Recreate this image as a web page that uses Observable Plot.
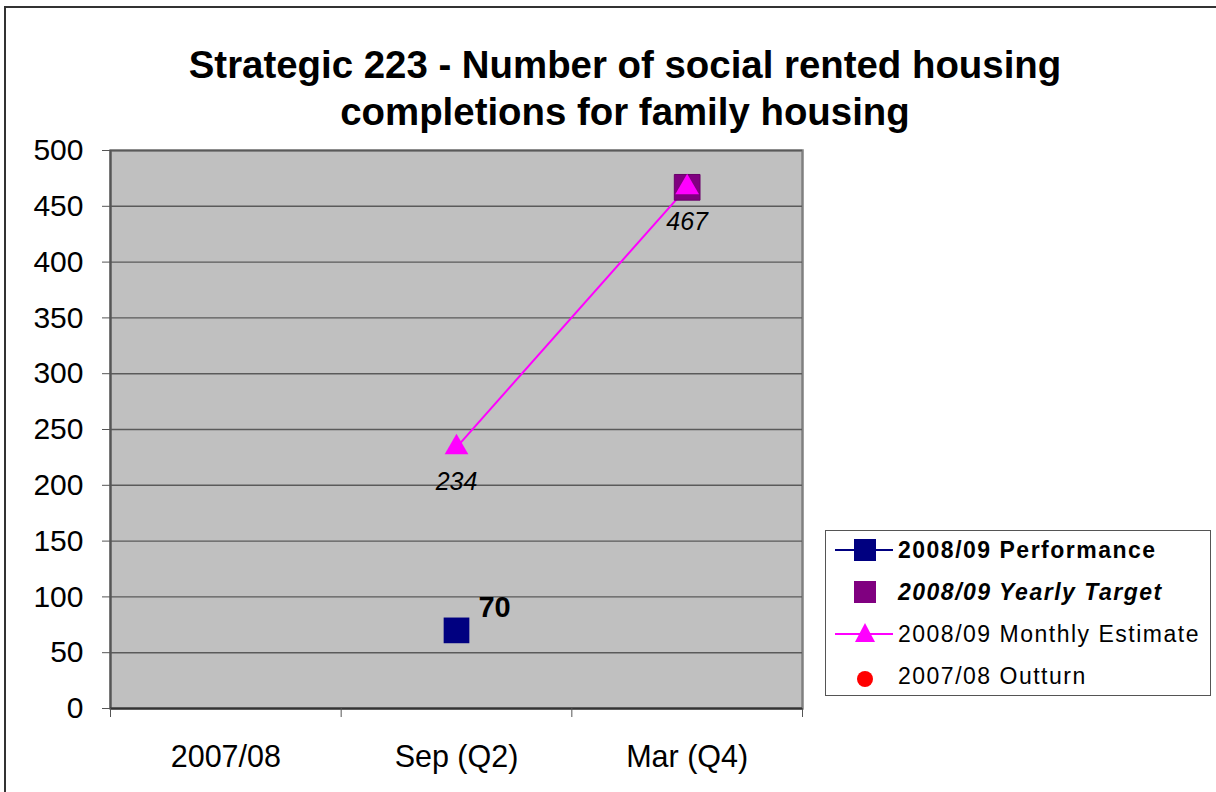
<!DOCTYPE html>
<html>
<head>
<meta charset="utf-8">
<script src="https://cdn.jsdelivr.net/npm/d3@7"></script>
<script src="https://cdn.jsdelivr.net/npm/@observablehq/plot@0.6"></script>
<style>
  html, body { margin: 0; padding: 0; background: #fff; overflow: hidden; }
  #wrap { position: relative; width: 1216px; height: 792px; font-family: "Liberation Sans", Arial, sans-serif; }
  #border { position: absolute; left: 4px; top: 6px; width: 1230px; height: 820px; border: 2px solid #333; box-sizing: border-box; }
  #title { position: absolute; left: 125px; width: 1000px; top: 41px; text-align: center; font-weight: bold; font-size: 38.4px; line-height: 47px; color: #000; }
  #chart { position: absolute; left: 0; top: 0; }
  #legend { position: absolute; left: 825px; top: 530px; width: 386px; height: 166px; border: 1.5px solid #555; box-sizing: border-box; background: #fff; padding-top: 0; }
  .row { height: 42.2px; display: flex; align-items: center; }
  .row:first-child { margin-top: -2px; }
  .row svg { flex: none; }
  .row span { font-size: 23px; letter-spacing: 1.5px; color: #000; white-space: nowrap; }
</style>
</head>
<body>
<div id="wrap">
  <div id="border"></div>
  <div id="chart"></div>
  <div id="title">Strategic 223 - Number of social rented housing<br>completions for family housing</div>
  <div id="legend"></div>
</div>
<script>
// ---- data ----
const categories = ["2007/08", "Sep (Q2)", "Mar (Q4)"];
const yTicks = [0, 50, 100, 150, 200, 250, 300, 350, 400, 450, 500];
const performance = [{cat: "Sep (Q2)", value: 70}];
const yearlyTarget = [{cat: "Mar (Q4)", value: 467}];
const monthlyEstimate = [{cat: "Sep (Q2)", value: 234}, {cat: "Mar (Q4)", value: 467}];
const outturn = []; // 2007/08 Outturn: no value shown
const seriesNames = ["2008/09 Performance", "2008/09 Yearly Target", "2008/09 Monthly Estimate", "2007/08 Outturn"];

// ---- helpers ----
const xi = d => categories.indexOf(d.cat) + 0.5;
const edges = d3.range(categories.length + 1);
const centers = categories.map((c, i) => i + 0.5);
const font = "'Liberation Sans', Arial, sans-serif";

const chart = Plot.plot({
  width: 1216,
  height: 792,
  marginLeft: 110,
  marginRight: 414,
  marginTop: 150,
  marginBottom: 84,
  style: {fontFamily: font, background: "transparent", overflow: "visible"},
  x: {domain: [0, categories.length]},
  y: {domain: [0, 500]},
  marks: [
    Plot.frame({fill: "#c0c0c0", stroke: "#808080", strokeWidth: 2.5}),
    Plot.gridY(yTicks, {stroke: "#5a5a5a", strokeOpacity: 1, strokeWidth: 1.4}),
    Plot.ruleX([0], {stroke: "#555", strokeWidth: 2}),
    Plot.ruleY([0], {stroke: "#333", strokeWidth: 2.2}),
    Plot.axisY({ticks: yTicks, tickSize: 8, tickPadding: 19, fontSize: 30, stroke: "#555", color: "#000", label: null}),
    Plot.axisX({ticks: edges, tickSize: 9, tickFormat: () => "", stroke: "#555", label: null}),
    Plot.axisX({ticks: centers, tickSize: 0, tickPadding: 37, fontSize: 30.5, tickFormat: v => categories[Math.round(v - 0.5)], color: "#000", label: null}),
    // monthly estimate line
    Plot.line(monthlyEstimate, {x: xi, y: "value", stroke: "#ff00ff", strokeWidth: 2}),
    // yearly target square
    Plot.dot(yearlyTarget, {x: xi, y: "value", symbol: "square", r: 14.5, fill: "#800080", stroke: "#6a006a", strokeWidth: 1}),
    Plot.dot(monthlyEstimate, {x: xi, y: "value", symbol: "triangle", r: 8.8, fill: "#ff00ff", stroke: "none"}),
    // performance
    Plot.dot(performance, {x: xi, y: "value", symbol: "square", r: 14.5, fill: "#000080", stroke: "none"}),
    Plot.dot(outturn, {x: xi, y: "value", r: 8, fill: "#ff0000"}),
    // labels
    Plot.text(performance, {x: xi, y: "value", text: d => String(d.value), dx: 38, dy: -23, fontSize: 29, fontWeight: "bold", fill: "#000", lineAnchor: "middle"}),
    Plot.text(monthlyEstimate, {x: xi, y: "value", text: d => String(d.value), dy: 35, fontSize: 25, fontStyle: "italic", fill: "#000", lineAnchor: "middle"})
  ]
});
document.getElementById("chart").appendChild(chart);

// ---- legend ----
const legendStyles = [
  {line: "#000080", symbol: "square", fill: "#000080", weight: "bold", style: "normal"},
  {line: null, symbol: "square", fill: "#800080", weight: "bold", style: "italic"},
  {line: "#ff00ff", symbol: "triangle", fill: "#ff00ff", weight: "normal", style: "normal"},
  {line: null, symbol: "circle", fill: "#ff0000", weight: "normal", style: "normal"}
];
const legend = d3.select("#legend");
seriesNames.forEach((name, i) => {
  const s = legendStyles[i];
  const row = legend.append("div").attr("class", "row");
  const svg = row.append("svg").attr("width", 72).attr("height", 40);
  const cx = 39, cy = 20;
  if (s.line) svg.append("line").attr("x1", 9).attr("x2", 67).attr("y1", cy).attr("y2", cy).attr("stroke", s.line).attr("stroke-width", 2);
  if (s.symbol === "square") svg.append("rect").attr("x", cx - 11).attr("y", cy - 11).attr("width", 22).attr("height", 22).attr("fill", s.fill);
  else if (s.symbol === "triangle") svg.append("path").attr("d", `M${cx},${cy - 11}L${cx + 10},${cy + 8}L${cx - 10},${cy + 8}Z`).attr("fill", s.fill);
  else svg.append("circle").attr("cx", cx).attr("cy", cy + 2).attr("r", 8).attr("fill", s.fill);
  row.append("span").text(name).style("font-weight", s.weight).style("font-style", s.style);
});
</script>
</body>
</html>
